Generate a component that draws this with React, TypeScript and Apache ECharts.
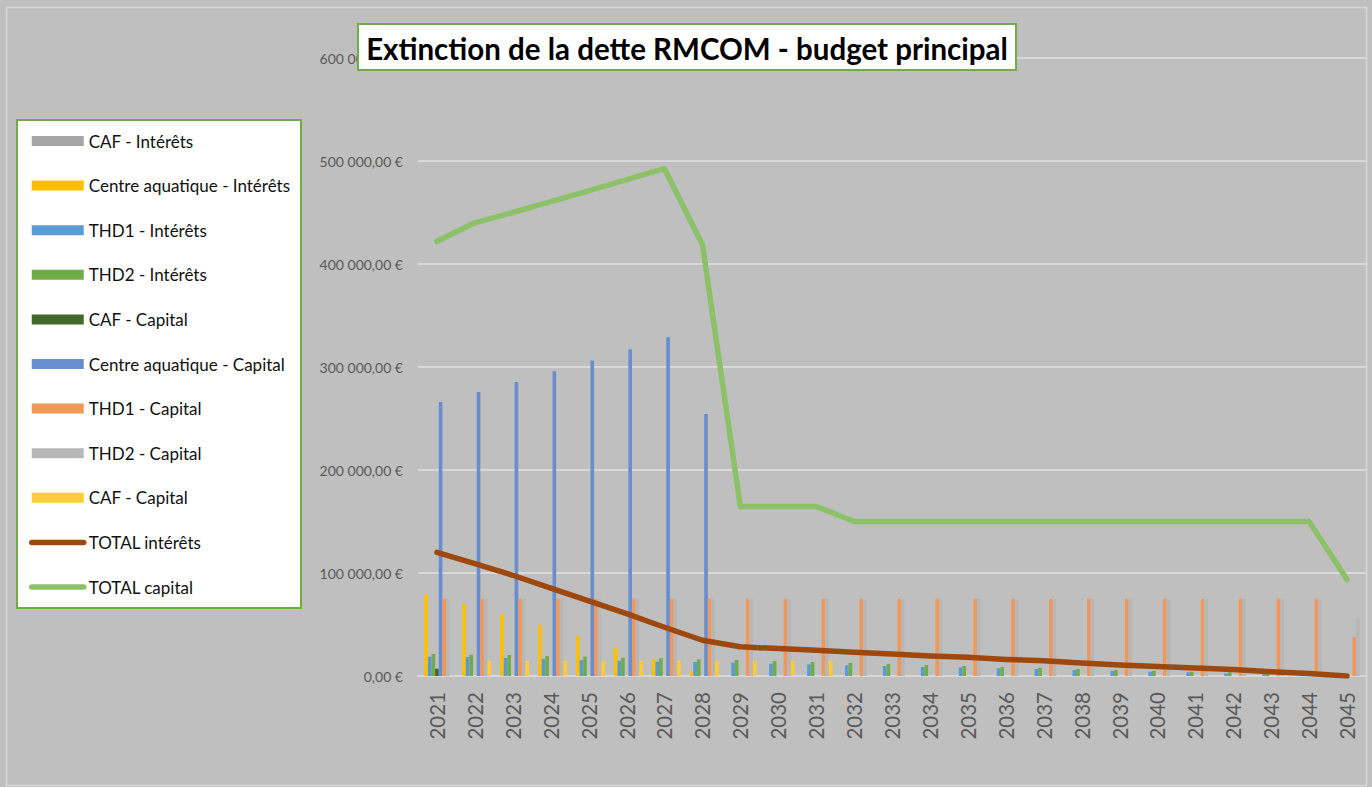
import React, { useEffect, useRef } from "react";
import * as echarts from "echarts";

const years = ["2021","2022","2023","2024","2025","2026","2027","2028","2029","2030","2031","2032","2033","2034","2035","2036","2037","2038","2039","2040","2041","2042","2043","2044","2045"];

const cafInterets = [0,0,0,0,0,0,0,0,0,0,0,0,0,0,0,0,0,0,0,0,0,0,0,0,0];
const caInterets = [79300,69900,59900,49500,38800,27800,16200,4900,0,0,0,0,0,0,0,0,0,0,0,0,0,0,0,0,0];
const thd1Interets = [18700,18400,17500,16500,15500,14900,13900,13600,12900,12000,11300,10400,9700,8700,8400,7400,6800,5800,4900,4200,3600,2600,1700,900,0];
const thd2Interets = [21300,20700,20400,19400,18700,17800,17200,16200,15500,14600,13600,12600,11700,10700,9700,8700,8000,6800,5800,5100,4200,3600,2500,1500,0];
const cafCapital1 = [7100,0,0,0,0,0,0,0,0,0,0,0,0,0,0,0,0,0,0,0,0,0,0,0,0];
const caCapital = [266000,275800,285500,295900,306200,317200,328900,254400,0,0,0,0,0,0,0,0,0,0,0,0,0,0,0,0,0];
const thd1Capital = [75000,75000,75000,75000,75000,75000,75000,75000,75000,75000,75000,75000,75000,75000,75000,75000,75000,75000,75000,75000,75000,75000,75000,75000,37600];
const thd2Capital = [75000,75000,75000,75000,75000,75000,75000,75000,75000,75000,75000,75000,75000,75000,75000,75000,75000,75000,75000,75000,75000,75000,75000,75000,56000];
const cafCapital2 = [0,14600,14600,14600,14600,14600,14600,14600,14600,14600,14600,0,0,0,0,0,0,0,0,0,0,0,0,0,0];
const totalInterets = [120000,109000,97800,85400,73000,60500,47300,34700,28400,26600,24900,23000,21400,19400,18100,16100,14800,12600,10700,9300,7800,6200,4200,2400,0];
const totalCapital = [422000,440000,450000,460500,471000,482000,492500,419000,164600,164600,164600,150000,150000,150000,150000,150000,150000,150000,150000,150000,150000,150000,150000,150000,93600];

const barSeries = [
  { name: "CAF - Intérêts", data: cafInterets, color: "#A5A5A5" },
  { name: "Centre aquatique - Intérêts", data: caInterets, color: "#FFC000" },
  { name: "THD1 - Intérêts", data: thd1Interets, color: "#5B9BD5" },
  { name: "THD2 - Intérêts", data: thd2Interets, color: "#70AD47" },
  { name: "CAF - Capital", data: cafCapital1, color: "#43682B" },
  { name: "Centre aquatique - Capital", data: caCapital, color: "#698ED0" },
  { name: "THD1 - Capital", data: thd1Capital, color: "#F1975A" },
  { name: "THD2 - Capital", data: thd2Capital, color: "#B7B7B7" },
  { name: "CAF - Capital #2", data: cafCapital2, color: "#FFCD33" },
];
const lineSeries = [
  { name: "TOTAL intérêts", data: totalInterets, color: "#9E480E" },
  { name: "TOTAL capital", data: totalCapital, color: "#8CC168" },
];

const FONT = "Lato";

function fmtEuro(v: number) {
  const s = Math.round(v).toString().replace(/\B(?=(\d{3})+(?!\d))/g, " ");
  return s + ",00 €";
}

export default function App() {
  const ref = useRef<HTMLDivElement>(null);
  useEffect(() => {
    if (!ref.current) return;
    const chart = echarts.init(ref.current, null, { renderer: "svg" });
    const series: any[] = [];
    barSeries.forEach((b) => {
      series.push({
        name: b.name,
        type: "bar",
        data: b.data,
        itemStyle: { color: b.color },
        barGap: "0%",
        barCategoryGap: "14%",
        z: 2,
      });
    });
    lineSeries.forEach((l) => {
      series.push({
        name: l.name,
        type: "line",
        data: l.data,
        symbol: "none",
        showSymbol: false,
        lineStyle: { color: l.color, width: 5.5, cap: "round", join: "round" },
        itemStyle: { color: l.color },
        z: 5,
      });
    });
    chart.setOption({
      animation: false,
      backgroundColor: "#BFBFBF",
      textStyle: { fontFamily: FONT },
      grid: { left: 418, right: 6, top: 58, bottom: 111, containLabel: false },
      legend: {
        orient: "vertical",
        left: 29,
        top: 132.5,
        itemWidth: 52,
        itemHeight: 10,
        itemGap: 27.6,
        padding: 0,
        textStyle: { fontFamily: FONT, fontSize: 17, color: "#111111", lineHeight: 17 },
        formatter: (name: string) => name.replace(" #2", ""),
        data: [
          ...barSeries.map((b) => ({ name: b.name, icon: "rect" })),
          ...lineSeries.map((l) => ({
            name: l.name,
            itemStyle: { opacity: 0 },
            lineStyle: { width: 5.5, cap: "round", color: l.color },
          })),
        ],
        selectedMode: false,
        z: 10,
      },
      xAxis: {
        type: "category",
        data: years,
        axisLine: { show: true, lineStyle: { color: "#D9D9D9", width: 2 } },
        axisTick: { show: false },
        axisLabel: {
          rotate: 90,
          interval: 0,
          fontSize: 20.5,
          color: "#595959",
          fontFamily: FONT,
          margin: 16,
        },
      },
      yAxis: {
        type: "value",
        min: 0,
        max: 600000,
        interval: 100000,
        axisLine: { show: false },
        axisTick: { show: false },
        splitLine: { lineStyle: { color: "#D9D9D9", width: 2 } },
        axisLabel: {
          formatter: (v: number) => fmtEuro(v),
          fontSize: 14,
          color: "#595959",
          fontFamily: FONT,
          margin: 15,
        },
      },
      graphic: [
        {
          type: "rect",
          z: 0,
          shape: { x: 6.5, y: 7.5, width: 1360, height: 778 },
          style: { fill: "none", stroke: "#D9D9D9", lineWidth: 1.5 },
          silent: true,
        },
        {
          type: "rect",
          z: 1,
          shape: { x: 17, y: 120, width: 284, height: 488 },
          style: { fill: "#FFFFFF", stroke: "#70AD47", lineWidth: 2 },
          silent: true,
        },
        {
          type: "rect",
          z: 100,
          shape: { x: 358, y: 24, width: 658, height: 46 },
          style: { fill: "#FFFFFF", stroke: "#70AD47", lineWidth: 2 },
          silent: true,
        },
        {
          type: "text",
          z: 101,
          x: 687,
          y: 48,
          style: {
            text: "Extinction de la dette RMCOM - budget principal",
            fontFamily: FONT,
            fontWeight: "bold",
            fontSize: 29.5,
            fill: "#000000",
            textAlign: "center",
            textVerticalAlign: "middle",
          },
          silent: true,
        },
      ],
      series,
    });
    return () => chart.dispose();
  }, []);
  return (
    <div
      ref={ref}
      style={{ position: "absolute", left: 0, top: 0, width: 1372, height: 787 }}
    />
  );
}
